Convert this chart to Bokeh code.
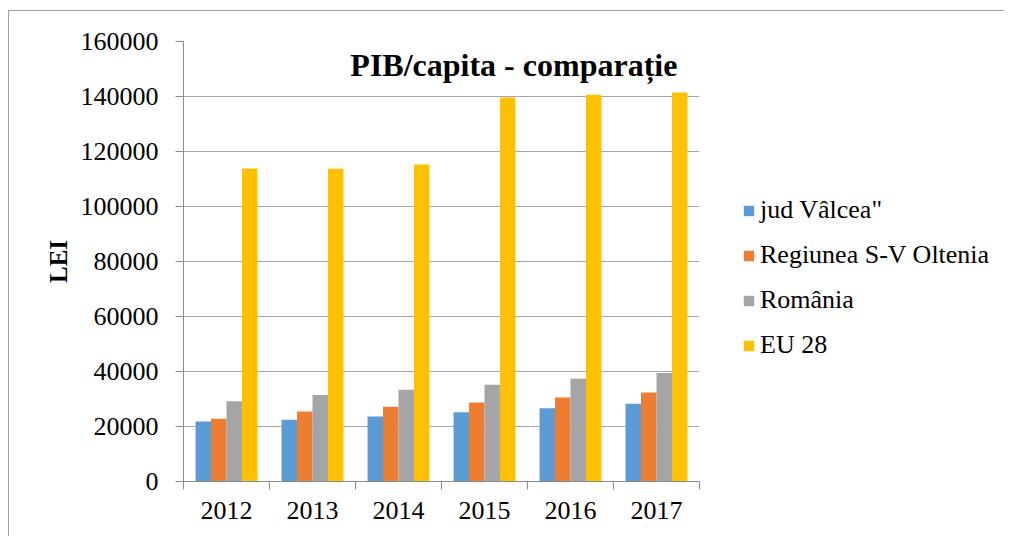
import numpy as np
from bokeh.plotting import figure
from bokeh.layouts import row
from bokeh.models import (Range1d, FixedTicker, NumeralTickFormatter, Legend,
                          LegendItem, Label)
from bokeh.embed import file_html
from bokeh.resources import INLINE

years = ["2012", "2013", "2014", "2015", "2016", "2017"]
valcea = [21800, 22500, 23600, 25200, 26650, 28250]
oltenia = [22800, 25450, 27150, 28700, 30550, 32350]
romania = [29200, 31500, 33350, 35150, 37350, 39500]
eu28 = [113800, 113700, 115300, 139600, 140600, 141450]

series_names = ['jud Vâlcea"', "Regiunea S-V Oltenia", "România", "EU 28"]
series_vals = [valcea, oltenia, romania, eu28]
colors = ["#5B9BD5", "#ED7D31", "#A5A5A5", "#FFC000"]
offsets = [-0.27, -0.09, 0.09, 0.27]

FONT = "Liberation Serif"
GRID = "#a6a6a6"
AXIS = "#8c8c8c"

p = figure(width=710, height=525, output_backend="svg", toolbar_location=None,
           x_range=Range1d(0, len(years)), y_range=Range1d(0, 160000),
           min_border_left=174, min_border_top=30, min_border_right=20,
           min_border_bottom=55)
p.outline_line_color = None

centers = np.arange(len(years)) + 0.5
for name, vals, col, off in zip(series_names, series_vals, colors, offsets):
    p.vbar(x=centers + off, top=vals, width=0.18, bottom=0,
           fill_color=col, line_color=None)

# y axis
p.yaxis.ticker = FixedTicker(ticks=list(range(0, 160001, 20000)))
p.yaxis.formatter = NumeralTickFormatter(format="0")
p.yaxis.major_tick_out = 8
p.yaxis.major_tick_in = 0
p.yaxis.minor_tick_line_color = None
p.yaxis.axis_line_color = AXIS
p.yaxis.major_tick_line_color = AXIS
p.yaxis.major_label_text_font = FONT
p.yaxis.major_label_text_font_size = "26px"
p.yaxis.major_label_text_color = "black"
p.yaxis.major_label_standoff = 17
p.yaxis.axis_label = "LEI"
p.yaxis.axis_label_text_font = FONT
p.yaxis.axis_label_text_font_style = "bold"
p.yaxis.axis_label_text_font_size = "25px"
p.yaxis.axis_label_text_color = "black"
p.yaxis.axis_label_standoff = 6

# x axis
p.xaxis.ticker = FixedTicker(ticks=list(centers),
                             minor_ticks=list(range(0, len(years) + 1)))
p.xaxis.major_label_overrides = {float(c): y for c, y in zip(centers, years)}
p.xaxis.major_tick_line_color = None
p.xaxis.major_tick_out = 8
p.xaxis.major_tick_in = 0
p.xaxis.minor_tick_line_color = AXIS
p.xaxis.minor_tick_out = 8
p.xaxis.minor_tick_in = 0
p.xaxis.axis_line_color = AXIS
p.xaxis.major_label_text_font = FONT
p.xaxis.major_label_text_font_size = "26px"
p.xaxis.major_label_text_color = "black"
p.xaxis.major_label_standoff = 12

p.xgrid.grid_line_color = None
p.ygrid.grid_line_color = GRID
p.ygrid.ticker = FixedTicker(ticks=list(range(20000, 160001, 20000)))

title = Label(x=1.94, y=151400, text="PIB/capita - comparație",
              text_font=FONT, text_font_style="bold", text_font_size="32px",
              text_color="black", text_baseline="alphabetic", text_align="left")
p.add_layout(title)

# legend panel (series renderers kept hidden, used only for legend swatches)
lf = figure(width=285, height=525, output_backend="svg", toolbar_location=None,
            x_range=Range1d(0, 1), y_range=Range1d(0, 1), min_border=0)
lf.axis.visible = False
lf.grid.grid_line_color = None
lf.outline_line_color = None
leg_items = []
for name, vals, col, off in zip(series_names, series_vals, colors, offsets):
    dr = lf.vbar(x=centers + off, top=vals, width=0.18, fill_color=col,
                 line_color=None, visible=False)
    leg_items.append(LegendItem(label=name, renderers=[dr]))

legend = Legend(items=leg_items, location=(23, 121))
legend.label_text_font = FONT
legend.label_text_font_size = "26px"
legend.label_text_color = "black"
legend.glyph_width = 13
legend.glyph_height = 13
legend.label_standoff = 5
legend.spacing = 15
legend.padding = 0
legend.margin = 0
legend.border_line_color = None
legend.background_fill_alpha = 0
lf.add_layout(legend, "center")

layout = row(p, lf)
layout.styles = {"border-top": "1px solid #a0a0a0", "border-left": "1px solid #a0a0a0",
                 "margin-left": "8px", "margin-top": "10px"}

open("out.html", "w").write(file_html(layout, INLINE))
